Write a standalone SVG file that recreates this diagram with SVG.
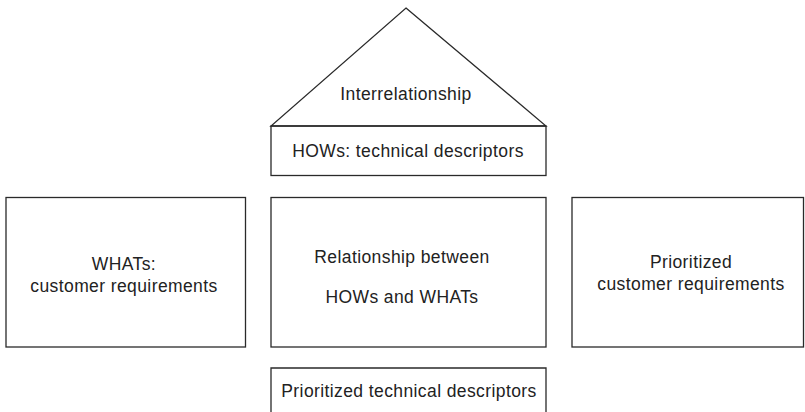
<svg xmlns="http://www.w3.org/2000/svg" width="805" height="412" viewBox="0 0 805 412">
  <style>
    .box { fill: none; stroke: #2a2a2a; stroke-width: 1.3; }
    .lbl { font-family: "Liberation Sans", Arial, sans-serif; font-size: 17.5px; letter-spacing: 0.4px; fill: #222; text-anchor: middle; }
  </style>
  <rect width="805" height="412" fill="#fff"/>

  <!-- roof: correlation matrix -->
  <g id="roof">
    <polygon class="box" points="406,8 546,126 271,126"/>
    <text class="lbl" x="406" y="100">Interrelationship</text>
  </g>

  <!-- technical descriptors row -->
  <g id="hows">
    <rect class="box" x="271" y="126" width="275" height="49.5"/>
    <text class="lbl" x="408" y="157">HOWs: technical descriptors</text>
  </g>

  <!-- customer requirements column -->
  <g id="whats">
    <rect class="box" x="6" y="197.5" width="239.5" height="149.5"/>
    <text class="lbl" x="124" y="270">WHATs:</text>
    <text class="lbl" x="124" y="292">customer requirements</text>
  </g>

  <!-- relationship matrix -->
  <g id="relationship">
    <rect class="box" x="271" y="197.5" width="275" height="149.5"/>
    <text class="lbl" x="402" y="263">Relationship between</text>
    <text class="lbl" x="402" y="303">HOWs and WHATs</text>
  </g>

  <!-- prioritized customer requirements column -->
  <g id="prioritized-customer">
    <rect class="box" x="572" y="197.5" width="231.5" height="149.5"/>
    <text class="lbl" x="691" y="268">Prioritized</text>
    <text class="lbl" x="691" y="290">customer requirements</text>
  </g>

  <!-- prioritized technical descriptors row (open at bottom) -->
  <g id="prioritized-technical">
    <polyline class="box" points="271,413 271,368 546,368 546,413"/>
    <text class="lbl" x="409" y="397">Prioritized technical descriptors</text>
  </g>

  <g id="connectors"/>
</svg>
